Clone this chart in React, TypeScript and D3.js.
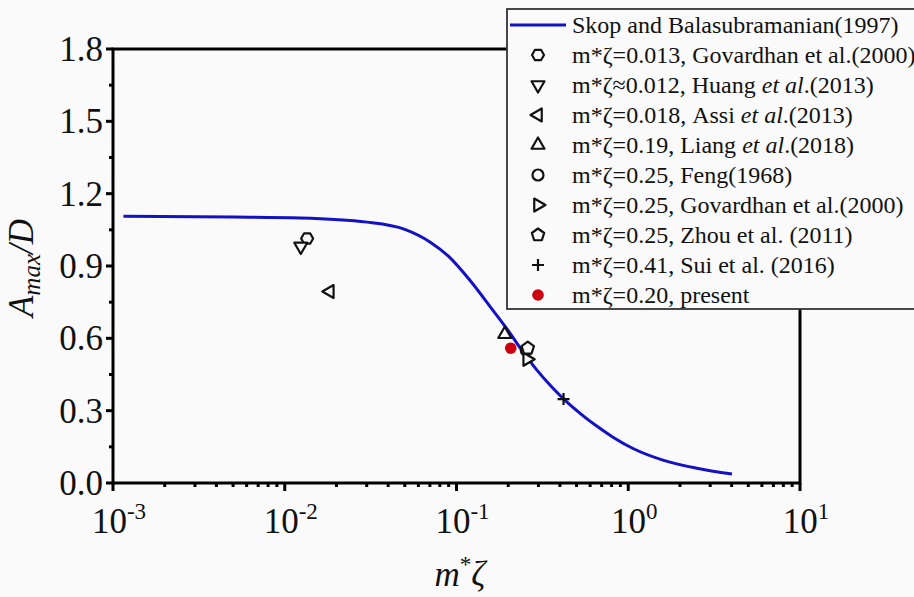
import React from "react";
import * as d3 from "d3";

// Skop & Balasubramanian (1997) prediction
const curveMassDamping = [0.00115, 0.005, 0.01227, 0.0301, 0.05, 0.07, 0.09, 0.12, 0.163, 0.1995, 0.2406, 0.294, 0.36, 0.44, 0.524, 0.658, 0.815, 1.066, 1.59, 2.51, 4.02];
const curveAmplitude = [1.106, 1.103, 1.099, 1.082, 1.052, 1.0, 0.94, 0.84, 0.716, 0.633, 0.55, 0.468, 0.397, 0.335, 0.289, 0.235, 0.19, 0.143, 0.095, 0.061, 0.037];

// Experimental / numerical data points
const studyShapes = ["hexagon", "triDown", "triLeft", "triUp", "circle", "triRight", "pentagon", "plus", "dot"];
const studyMassDamping = [0.0135, 0.0124, 0.0183, 0.191, 0.255, 0.258, 0.26, 0.42, 0.207];
const studyAmplitude = [1.014, 0.981, 0.794, 0.617, 0.55, 0.513, 0.559, 0.348, 0.559];

// Legend labels: [prefix, italic part, suffix]
const legendLabels: [string, string, string][] = [
  ["m*ζ=0.013, Govardhan et al.(2000)", "", ""],
  ["m*ζ≈0.012, Huang ", "et al", ".(2013)"],
  ["m*ζ=0.018, Assi ", "et al", ".(2013)"],
  ["m*ζ=0.19, Liang ", "et al", ".(2018)"],
  ["m*ζ=0.25, Feng(1968)", "", ""],
  ["m*ζ=0.25, Govardhan et al.(2000)", "", ""],
  ["m*ζ=0.25, Zhou et al. (2011)", "", ""],
  ["m*ζ=0.41, Sui et al. (2016)", "", ""],
  ["m*ζ=0.20, present", "", ""],
];
const curveLegendLabel = "Skop and Balasubramanian(1997)";

const yTicks = [0, 0.3, 0.6, 0.9, 1.2, 1.5, 1.8];
const yMinorTicks = [0.15, 0.45, 0.75, 1.05, 1.35, 1.65];
const xDecades = [-3, -2, -1, 0, 1];

const W = 914;
const H = 597;
const BG = "#fafafa";
const FONT = '"Liberation Serif", "Times New Roman", "DejaVu Serif", serif';
const BLUE = "#1212c4";

function polygon(n: number, r: number, rot: number) {
  const pts = d3.range(n).map((i) => {
    const a = rot + (i * 2 * Math.PI) / n;
    return [r * Math.cos(a), r * Math.sin(a)];
  });
  return "M" + pts.map((p) => p.join(",")).join("L") + "Z";
}

function Marker({ shape, cx, cy }: { shape: string; cx: number; cy: number }) {
  const common = { fill: BG, stroke: "#111", strokeWidth: 2.2, strokeLinejoin: "round" as const };
  const t = `translate(${cx},${cy})`;
  const tri = 7.5;
  switch (shape) {
    case "hexagon":
      return <path transform={t} d={polygon(6, 6, 0)} {...common} />;
    case "pentagon":
      return <path transform={t} d={polygon(5, 6.5, -Math.PI / 2)} {...common} />;
    case "triUp":
      return <path transform={t} d={polygon(3, tri, -Math.PI / 2)} {...common} />;
    case "triDown":
      return <path transform={t} d={polygon(3, tri, Math.PI / 2)} {...common} />;
    case "triLeft":
      return <path transform={t} d={polygon(3, tri, Math.PI)} {...common} />;
    case "triRight":
      return <path transform={t} d={polygon(3, tri, 0)} {...common} />;
    case "circle":
      return <circle cx={cx} cy={cy} r={5.5} {...common} />;
    case "plus":
      return (
        <path transform={t} d="M-6,0H6M0,-6V6" stroke="#111" strokeWidth={2.2} fill="none" />
      );
    case "dot":
      return <circle cx={cx} cy={cy} r={5.8} fill="#cc0010" />;
    default:
      return null;
  }
}

export default function App() {
  const left = 113, right = 800, top = 49, bottom = 483;
  const x = d3.scaleLog().domain([1e-3, 10]).range([left, right]);
  const y = d3.scaleLinear().domain([0, 1.8]).range([bottom, top]);

  const line = d3
    .line<number>()
    .x((_, i) => x(curveMassDamping[i]))
    .y((d) => y(d))
    .curve(d3.curveMonotoneX);

  const xMinor: number[] = [];
  for (let e = -3; e < 1; e++) for (let k = 2; k <= 9; k++) xMinor.push(k * Math.pow(10, e));

  const legX = 507, legY = 9, rowH = 30, firstRow = 25;
  const txt = { fontFamily: FONT };

  return (
    <svg
      width={W}
      height={H}
      style={{ position: "absolute", left: 0, top: 0, background: BG, fontFamily: FONT }}
    >
      <rect width={W} height={H} fill={BG} />

      {/* curve */}
      <path d={line(curveAmplitude) || ""} fill="none" stroke={BLUE} strokeWidth={3} />

      {/* data points */}
      {studyShapes.map((s, i) => (
        <Marker key={i} shape={s} cx={x(studyMassDamping[i])} cy={y(studyAmplitude[i])} />
      ))}

      {/* frame */}
      <rect x={left} y={top} width={right - left} height={bottom - top} fill="none" stroke="#000" strokeWidth={3} />

      {/* y ticks */}
      {yTicks.map((v) => (
        <g key={v}>
          <line x1={left - 7} x2={left} y1={y(v)} y2={y(v)} stroke="#000" strokeWidth={3} />
          <text x={103} y={y(v) + 12} textAnchor="end" fontSize={35} fill="#111" style={txt}>
            {v.toFixed(1)}
          </text>
        </g>
      ))}
      {yMinorTicks.map((v) => (
        <line key={v} x1={left - 4} x2={left} y1={y(v)} y2={y(v)} stroke="#000" strokeWidth={3} />
      ))}

      {/* x ticks */}
      {xDecades.map((e) => {
        const px = x(Math.pow(10, e));
        return (
          <g key={e}>
            <line x1={px} x2={px} y1={bottom} y2={bottom + 8} stroke="#000" strokeWidth={3} />
            <text x={px + 6} y={533} textAnchor="middle" fontSize={35} fill="#111" style={txt}>
              10
              <tspan fontSize={23} dy={-14}>{e}</tspan>
            </text>
          </g>
        );
      })}
      {xMinor.map((v) => (
        <line key={v} x1={x(v)} x2={x(v)} y1={bottom} y2={bottom + 4} stroke="#000" strokeWidth={3} />
      ))}

      {/* axis titles */}
      <text x={460} y={586} textAnchor="middle" fontSize={35} fill="#111" fontStyle="italic" style={txt}>
        m<tspan fontSize={23} dy={-14} fontStyle="normal">*</tspan>
        <tspan dy={14}>ζ</tspan>
      </text>
      <text
        transform="translate(33,268) rotate(-90)"
        textAnchor="middle"
        fontSize={35}
        fill="#111"
        fontStyle="italic"
        style={txt}
      >
        A<tspan fontSize={25} dy={7}>max</tspan>
        <tspan dy={-7}>/D</tspan>
      </text>

      {/* legend */}
      <rect x={legX} y={legY} width={600} height={300} fill={BG} stroke="#333" strokeWidth={1.8} />
      <line x1={510} x2={566} y1={firstRow} y2={firstRow} stroke={BLUE} strokeWidth={3} />
      <text x={572} y={firstRow + 8} fontSize={24} fill="#111" style={txt}>
        {curveLegendLabel}
      </text>
      {legendLabels.map((lab, i) => {
        const cy = firstRow + rowH * (i + 1);
        return (
          <g key={i}>
            <Marker shape={studyShapes[i]} cx={538} cy={cy} />
            <text x={572} y={cy + 8} fontSize={24} fill="#111" style={txt}>
              {lab[0]}
              {lab[1] && <tspan fontStyle="italic">{lab[1]}</tspan>}
              {lab[2]}
            </text>
          </g>
        );
      })}
    </svg>
  );
}
